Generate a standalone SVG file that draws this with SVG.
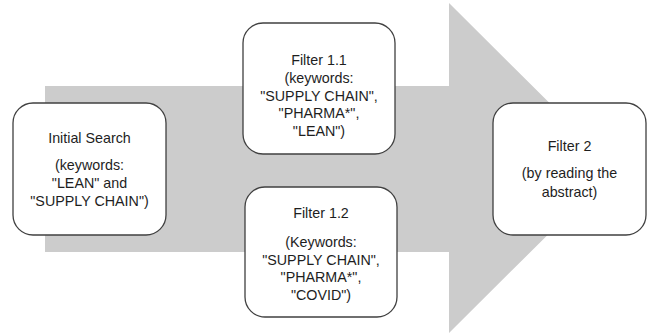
<svg xmlns="http://www.w3.org/2000/svg" width="650" height="336" viewBox="0 0 650 336">
<style>
.box{fill:#ffffff;stroke:#404040;stroke-width:1.3}
.t{font-family:"Liberation Sans",Arial,sans-serif;font-size:14.3px;fill:#1e1e1e;text-anchor:middle}
</style>
<rect width="650" height="336" fill="#ffffff"/>
<g id="connectors">
<path d="M45,86 H449 V3 L615,168 L449,333 V252 H45 Z" fill="#cccccc"/>
</g>
<g id="initial">
<rect class="box" x="13" y="103" width="153" height="132" rx="20"/>
<text class="t" x="89.5" y="143">Initial Search</text>
<text class="t" x="89.5" y="170">(keywords:</text>
<text class="t" x="89.5" y="188">"LEAN" and</text>
<text class="t" x="89.5" y="206">"SUPPLY CHAIN")</text>
</g>
<g id="filter11">
<rect class="box" x="243" y="23" width="152" height="131" rx="20"/>
<text class="t" x="319" y="65">Filter 1.1</text>
<text class="t" x="319" y="83">(keywords:</text>
<text class="t" x="319" y="100.5">"SUPPLY CHAIN",</text>
<text class="t" x="319" y="118">"PHARMA*",</text>
<text class="t" x="319" y="135.5">"LEAN")</text>
</g>
<g id="filter12">
<rect class="box" x="245" y="187" width="152" height="130" rx="20"/>
<text class="t" x="321" y="218">Filter 1.2</text>
<text class="t" x="321" y="247">(Keywords:</text>
<text class="t" x="321" y="264.5">"SUPPLY CHAIN",</text>
<text class="t" x="321" y="282">"PHARMA*",</text>
<text class="t" x="321" y="299.5">"COVID")</text>
</g>
<g id="filter2">
<rect class="box" x="493" y="103" width="153" height="132" rx="20"/>
<text class="t" x="569.5" y="151">Filter 2</text>
<text class="t" x="569.5" y="178">(by reading the</text>
<text class="t" x="569.5" y="197">abstract)</text>
</g>
</svg>
